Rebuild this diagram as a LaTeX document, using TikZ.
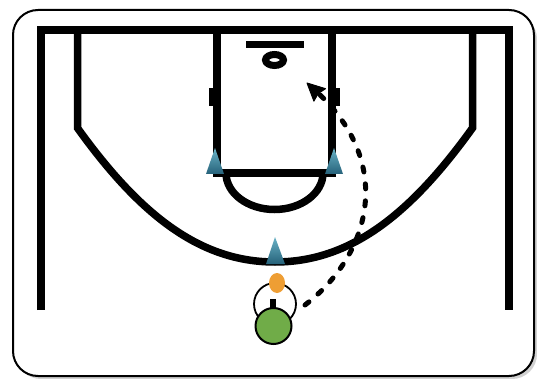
\documentclass[tikz,border=0pt]{standalone}
\usetikzlibrary{arrows.meta,shapes.geometric}
\begin{document}
\begin{tikzpicture}[x=1pt,y=-1pt,
	courtline/.style={line width=7.5pt, line join=miter},
	cone/.style={top color=conelight, bottom color=conedark},
	cutpath/.style={line width=5pt, line cap=round, dash pattern=on 5pt off 12pt}]
	% Define custom colors
	\definecolor{conelight}{RGB}{105, 178, 198}
	\definecolor{conedark}{RGB}{38, 98, 122}
	\definecolor{playergreen}{RGB}{112, 172, 72}
	\definecolor{ballorange}{RGB}{238, 158, 52}
	\useasboundingbox (0,0) rectangle (537,379);
	% frame
	\fill[black!18, rounded corners=25pt] (16,14) rectangle (537,379);
	\draw[fill=white, line width=2pt, rounded corners=25pt] (13,10) rectangle (534,376);
	% court lines
	\coordinate (SLB) at (41,310);
	\coordinate (SRB) at (509,310);
	\draw[courtline] (SLB) -- (41,30) -- (509,30) -- (SRB);
	\draw[courtline] (77.5,30) -- (77.5,128) .. controls (140,215) and (200,262) .. (275,262)
		.. controls (350,262) and (410,215) .. (472.5,128) -- (472.5,30);
	\draw[courtline] (217,30) -- (217,173) -- (332,173) -- (332,30);
	\draw[courtline] (226,173) .. controls (226,193.2) and (247.7,209.5) .. (274.5,209.5)
		.. controls (301.3,209.5) and (323,193.2) .. (323,173);
	\fill (209,88) rectangle (214,106);
	\fill (335,88) rectangle (340,106);
	% basket
	\draw[line width=7pt] (246,45) -- (304,45);
	\draw[line width=7pt] (274.5,60) ellipse [x radius=9, y radius=5.5];
	% cones
	\shade[cone] (206,174) -- (215,148) -- (224,174) -- cycle;
	\shade[cone] (325,174) -- (334,148) -- (343,174) -- cycle;
	\shade[cone] (266,264) -- (275,237) -- (285,264) -- cycle;
	% player with ball
	\draw[line width=1.8pt] (275,304) circle [radius=21];
	\fill (270,299) rectangle (276,309);
	\node[circle, draw, line width=2pt, fill=playergreen, minimum size=36pt, inner sep=0pt] (player) at (273.5,326) {};
	\node[ellipse, fill=ballorange, minimum width=16pt, minimum height=20pt, inner sep=0pt] (ball) at (277,283) {};
	% cut to the basket
	\coordinate (cutstart) at (305,305);
	\coordinate (cutbase) at (318,93);
	\coordinate (cutend) at (307,83);
	\draw[cutpath] (cutstart) .. controls (370,255) and (395,165) .. (cutbase);
	\draw[fill, line width=1pt, line join=round] (cutend) -- (325.5,88.7) -- (318.2,93.5) -- (313.9,101.1) -- cycle;
\end{tikzpicture}
\end{document}
